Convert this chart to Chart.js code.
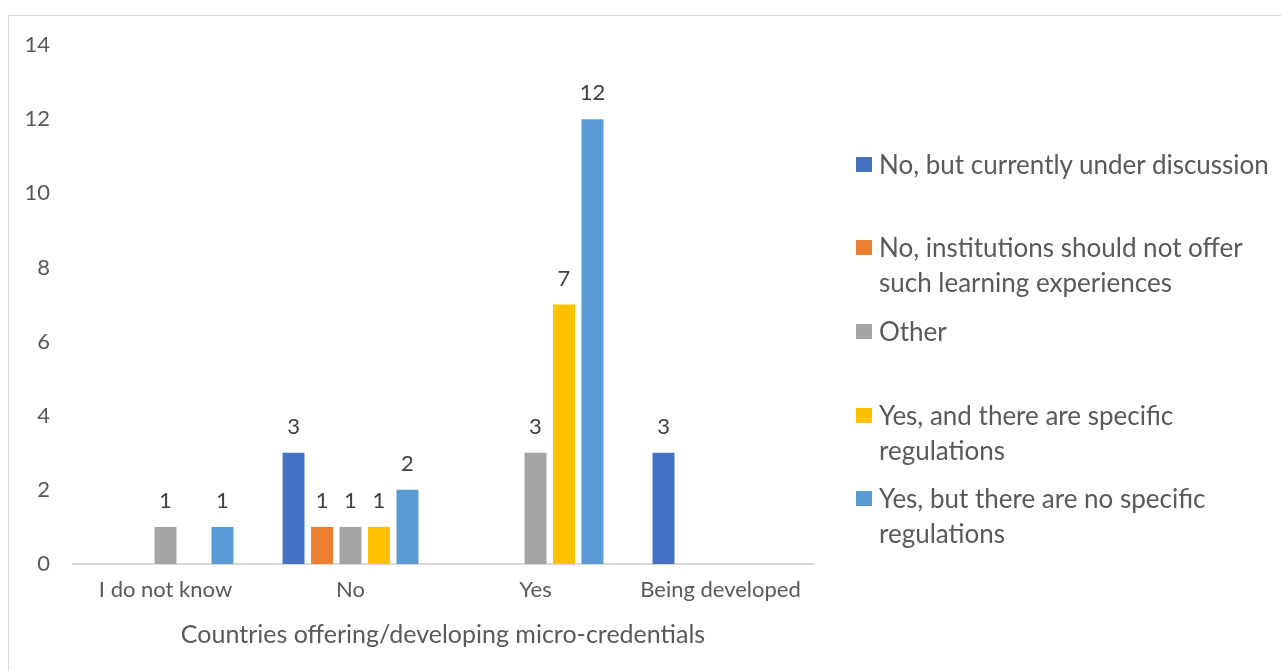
<!DOCTYPE html>
<html>
<head>
<meta charset="utf-8">
<script src="https://cdn.jsdelivr.net/npm/chart.js@4"></script>
<style>
    html, body { margin: 0; padding: 0; background: #fff; overflow: hidden; }
    #wrap { position: relative; width: 1281px; height: 671px; }
    #frame { position: absolute; left: 8px; top: 15px; width: 1280px; height: 670px; border: 1px solid #d9d9d9; box-sizing: border-box; }
    #chart { position: absolute; left: 0; top: 0; }
    #legend { position: absolute; left: 856px; top: 0; font-family: Lato, sans-serif; font-size: 26px; color: #595959; }
    .item { position: absolute; left: 0; width: 420px; line-height: 35px; }
    .box { position: absolute; left: 0; top: 10px; width: 16px; height: 15px; }
    .txt { margin-left: 23px; }
</style>
</head>
<body>
<div id="wrap">
    <div id="frame"></div>
    <canvas id="chart" width="1281" height="671"></canvas>
    <div id="legend"></div>
</div>
<script>
const categories = ['I do not know', 'No', 'Yes', 'Being developed'];
const seriesNames = [
    'No, but currently under discussion',
    'No, institutions should not offer such learning experiences',
    'Other',
    'Yes, and there are specific regulations',
    'Yes, but there are no specific regulations'
];
const underDiscussion = [null, 3, null, 3];
const shouldNotOffer = [null, 1, null, null];
const other = [1, 1, 3, null];
const specificRegs = [null, 1, 7, null];
const noSpecificRegs = [1, 2, 12, null];
const yTicks = [0, 2, 4, 6, 8, 10, 12, 14];
const axisTitle = 'Countries offering/developing micro-credentials';

const colors = ['#4472C4', '#ED7D31', '#A5A5A5', '#FFC000', '#5B9BD5'];
const seriesValues = [underDiscussion, shouldNotOffer, other, specificRegs, noSpecificRegs];
const legendTops = [164, 247, 331, 415, 498];

const textColor = '#595959';

// value labels above the bars
const barLabels = {
    id: 'barLabels',
    afterDatasetsDraw(chart) {
        const ctx = chart.ctx;
        ctx.save();
        ctx.font = '22px Lato, sans-serif';
        ctx.fillStyle = '#404040';
        ctx.textAlign = 'center';
        ctx.textBaseline = 'middle';
        chart.data.datasets.forEach((ds, i) => {
            const meta = chart.getDatasetMeta(i);
            meta.data.forEach((bar, j) => {
                const v = ds.data[j];
                if (v === null || v === undefined) return;
                ctx.fillText(String(v), bar.x, bar.y - 26);
            });
        });
        ctx.restore();
    }
};

new Chart(document.getElementById('chart'), {
    type: 'bar',
    data: {
        labels: categories,
        datasets: seriesNames.map((name, i) => ({
            label: name,
            data: seriesValues[i],
            backgroundColor: colors[i],
            categoryPercentage: 0.77,
            barPercentage: 0.77
        }))
    },
    options: {
        responsive: false,
        animation: false,
        layout: { padding: { top: 45, right: 468, bottom: 20, left: 0 } },
        plugins: {
            legend: { display: false },
            tooltip: { enabled: false }
        },
        scales: {
            x: {
                grid: { display: false, drawTicks: false },
                border: { color: '#d9d9d9', width: 2 },
                ticks: { color: textColor, font: { family: 'Lato', size: 22 }, padding: 13 },
                title: {
                    display: true,
                    text: axisTitle,
                    color: textColor,
                    font: { family: 'Lato', size: 25 },
                    padding: { top: 0, bottom: 1 }
                },
                afterFit(scale) { scale.height = 87; }
            },
            y: {
                min: 0,
                max: 14,
                grid: { display: false, drawTicks: false },
                border: { display: false },
                afterBuildTicks(scale) { scale.ticks = yTicks.map(v => ({ value: v })); },
                ticks: { color: textColor, font: { family: 'Lato', size: 22 }, padding: 23 },
                afterFit(scale) { scale.width = 73; }
            }
        }
    },
    plugins: [barLabels]
});

const legend = document.getElementById('legend');
seriesNames.forEach((name, i) => {
    const item = document.createElement('div');
    item.className = 'item';
    item.style.top = (legendTops[i] - 17.5) + 'px';
    item.innerHTML = `<span class="box" style="background:${colors[i]}"></span><div class="txt">${name}</div>`;
    legend.appendChild(item);
});
</script>
</body>
</html>
